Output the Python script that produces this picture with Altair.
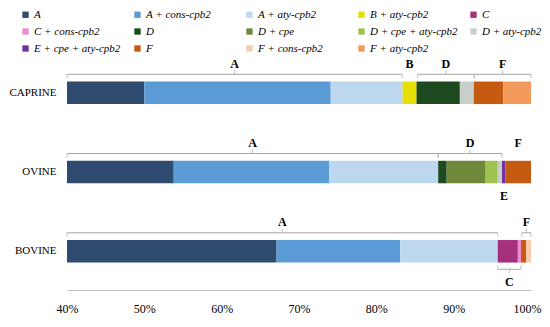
import altair as alt
import pandas as pd

animals = ["CAPRINE", "OVINE", "BOVINE"]
categories = ["A", "A + cons-cpb2", "A + aty-cpb2", "B + aty-cpb2", "C", "C + cons-cpb2",
              "D", "D + cpe", "D + cpe + aty-cpb2", "D + aty-cpb2", "E + cpe + aty-cpb2",
              "F", "F + cons-cpb2", "F + aty-cpb2"]
colors = ["#2F4B6F", "#5B9BD5", "#BDD7EE", "#E6DF00", "#A6307E", "#F08AD0",
          "#1C4A1E", "#70883A", "#9FC14F", "#C9CECB", "#7030A0",
          "#C55A11", "#F8CBAD", "#F29A5C"]

caprine = [50.0, 24.1, 9.3, 1.8, 0, 0, 5.6, 0, 0, 1.8, 0, 3.8, 0, 3.6]
ovine = [53.8, 20.1, 14.1, 0, 0, 0, 1.1, 4.95, 1.65, 0.55, 0.45, 3.3, 0, 0]
bovine = [67.1, 16.0, 12.6, 0, 2.6, 0.4, 0, 0, 0, 0, 0, 0.7, 0.6, 0]

# brackets above bars
br_animal = ["CAPRINE", "CAPRINE", "CAPRINE", "OVINE", "OVINE", "BOVINE", "BOVINE"]
br_start = [40, 85.35, 92.65, 40, 88.0, 40, 98.8]
br_end = [83.35, 92.65, 100, 88.0, 96.25, 95.7, 100]
br_label = ["A", "D", "F", "A", "D", "A", "F"]

# brackets below bars
bb_animal = ["BOVINE"]
bb_start = [95.7]
bb_end = [98.7]
bb_label = ["C"]

# free labels
fl_animal = ["CAPRINE", "OVINE"]
fl_x = [84.3, 98.35]
fl_label = ["B", "F"]
fb_animal = ["OVINE"]
fb_x = [96.5]
fb_label = ["E"]

rows = []
for animal, vals in zip(animals, [caprine, ovine, bovine]):
    for i, (c, v) in enumerate(zip(categories, vals)):
        if v > 0:
            rows.append({"animal": animal, "cat": c, "idx": i, "pct": v})
df = pd.DataFrame(rows)

above = pd.DataFrame({"animal": br_animal, "start": br_start, "end": br_end, "label": br_label})
below = pd.DataFrame({"animal": bb_animal, "start": bb_start, "end": bb_end, "label": bb_label})
free_above = pd.DataFrame({"animal": fl_animal, "x": fl_x, "label": fl_label})
free_below = pd.DataFrame({"animal": fb_animal, "x": fb_x, "label": fb_label})

SERIF = "Liberation Serif"
GREY = "#A6A6A6"

x_axis = alt.Axis(values=[40, 50, 60, 70, 80, 90, 100], labelExpr="datum.value + '%'",
                  grid=False, ticks=False, domainColor="#BFBFBF", domainWidth=1,
                  labelFont=SERIF, labelFontSize=12, labelColor="#000000",
                  labelOffset={"condition": {"test": "datum.value == 100", "value": -4}, "value": 0},
                  labelPadding=13, labelFlush=False, labelBound=False, title=None)
x_scale = alt.Scale(domain=[40, 100], nice=False, zero=False)
y_enc = alt.Y("animal:N", sort=animals,
              scale=alt.Scale(paddingInner=0.716, paddingOuter=0.328, align=0.472),
              axis=alt.Axis(domain=False, ticks=False, labelFont=SERIF, labelFontSize=11,
                            labelColor="#000000", labelPadding=11, title=None))

bars = alt.Chart(df).mark_bar(clip=True).encode(
    x=alt.X("pct:Q", stack="zero", scale=x_scale, axis=x_axis),
    y=y_enc,
    color=alt.Color("cat:N", scale=alt.Scale(domain=categories, range=colors),
                    legend=alt.Legend(orient="none", legendX=-47, legendY=-48, columns=5,
                                      direction="horizontal",
                                      title=None, symbolType="square", symbolSize=40,
                                      symbolStrokeWidth=0, labelFont=SERIF,
                                      labelFontStyle="italic", labelFontSize=11,
                                      labelColor="#000000", labelOffset=3,
                                      columnPadding=10, rowPadding=5, gridAlign="all",
                                      padding=0, labelLimit=200)),
    order=alt.Order("idx:Q"),
)

def bracket_layers(data, off, tick_off, center_off, label_off):
    base = alt.Chart(data)
    line = base.mark_rule(color=GREY, strokeWidth=1, yOffset=off).encode(
        x=alt.X("start:Q", scale=x_scale, axis=x_axis), x2="end:Q", y=y_enc)
    ends = base.transform_fold(["start", "end"], as_=["k", "v"]).mark_tick(
        color=GREY, thickness=1, size=4, yOffset=tick_off, orient="vertical").encode(
        x=alt.X("v:Q", scale=x_scale, axis=x_axis), y=y_enc)
    center = base.transform_calculate(mid="(datum.start + datum.end) / 2").mark_tick(
        color=GREY, thickness=1, size=4, yOffset=center_off, orient="vertical").encode(
        x=alt.X("mid:Q", scale=x_scale, axis=x_axis), y=y_enc)
    text = base.transform_calculate(mid="(datum.start + datum.end) / 2").mark_text(
        font=SERIF, fontSize=12, fontWeight="bold", color="#000000", yOffset=label_off).encode(
        x=alt.X("mid:Q", scale=x_scale, axis=x_axis), y=y_enc, text="label:N")
    return [line, ends, center, text]

def free_text(data, off):
    return alt.Chart(data).mark_text(font=SERIF, fontSize=12, fontWeight="bold",
                                     color="#000000", yOffset=off).encode(
        x=alt.X("x:Q", scale=x_scale, axis=x_axis), y=y_enc, text="label:N")

layers = [bars] + bracket_layers(above, -18.5, -16.5, -20.5, -29) \
    + bracket_layers(below, 18, 16, 20, 30.5) \
    + [free_text(free_above, -29), free_text(free_below, 23.5)]

chart = alt.layer(*layers).properties(
    width=464, height=233,
    autosize=alt.AutoSizeParams(type="none"),
    padding={"left": 59, "top": 49, "right": 11, "bottom": 29},
).configure_view(stroke=None)

chart.save("out.html", embed_options={"renderer": "svg", "actions": False})
